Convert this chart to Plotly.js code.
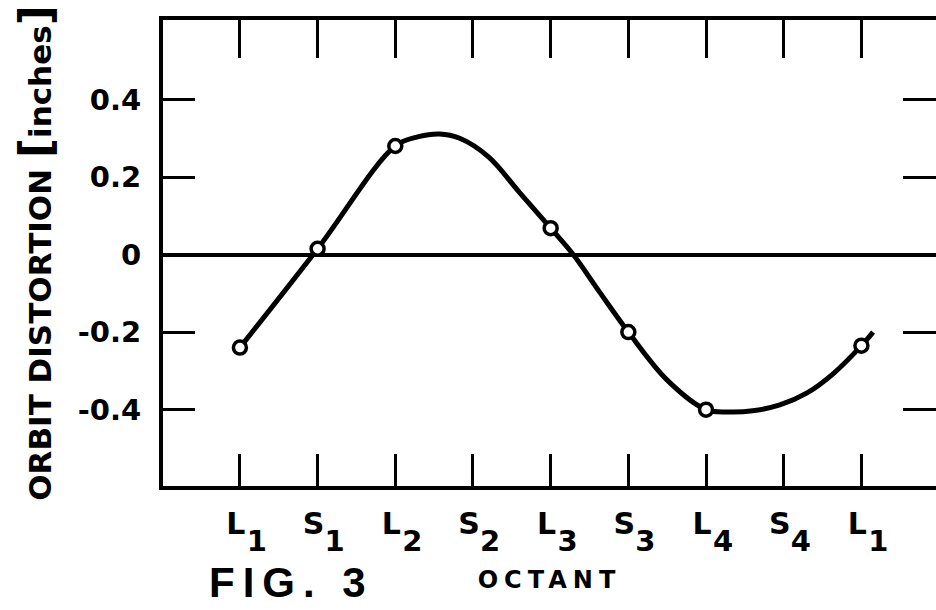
<!DOCTYPE html>
<html>
<head>
<meta charset="utf-8">
<script src="https://cdn.plot.ly/plotly-3.0.1.min.js"></script>
<style>html,body{margin:0;padding:0;background:#fff;}#chart{width:936px;height:610px;}</style>
</head>
<body>
<div id="chart"></div>
<script>
// Octant positions and labels
const octantPos = [0, 1, 2, 3, 4, 5, 6, 7, 8];
const octantLetters = ["L", "S", "L", "S", "L", "S", "L", "S", "L"];
const octantSubs = ["1", "1", "2", "2", "3", "3", "4", "4", "1"];

// Y ticks
const yTickVals = [-0.4, -0.2, 0, 0.2, 0.4];
const yTickText = ["-0.4", "-0.2", "0", "0.2", "0.4"];

// Measured points (open circles)
const pointX = [0, 1, 2, 4, 5, 6, 8];
const pointY = [-0.24, 0.015, 0.28, 0.068, -0.2, -0.40, -0.235];

// Smooth curve
const curveX = [0, 1, 2, 2.3, 2.57, 2.83, 3.2, 3.6, 4, 4.29, 4.63, 5, 5.5, 6, 6.3, 6.6, 6.95, 7.3, 7.65, 8, 8.15];
const curveY = [-0.24, 0.015, 0.28, 0.304, 0.311, 0.300, 0.252, 0.16, 0.068, 0, -0.097, -0.2, -0.324, -0.40, -0.406, -0.403, -0.388, -0.357, -0.305, -0.235, -0.200];

const FONT = "DejaVu Sans";
const xRange = [-0.99, 8.96];
const yRange = [-0.597, 0.605];

const traces = [
  {
    x: curveX, y: curveY, mode: "lines", type: "scatter",
    line: {color: "#000", width: 5, shape: "spline", smoothing: 1},
    hoverinfo: "skip", showlegend: false
  },
  {
    x: pointX, y: pointY, mode: "markers", type: "scatter",
    marker: {size: 13, color: "#fff", line: {color: "#000", width: 3.5}},
    showlegend: false
  },
  {x: [], y: [], xaxis: "x2", yaxis: "y2", type: "scatter", showlegend: false},
  {x: [], y: [], xaxis: "x3", yaxis: "y", type: "scatter", showlegend: false}
];

const layout = {
  width: 936, height: 610,
  margin: {l: 163, r: 0, t: 20, b: 124},
  paper_bgcolor: "#fff", plot_bgcolor: "#fff",
  font: {family: FONT, color: "#000"},
  showlegend: false,
  xaxis: {
    range: xRange, showgrid: false, zeroline: false,
    showline: true, linewidth: 4, linecolor: "#000",
    ticks: "inside", ticklen: 32, tickwidth: 3, tickcolor: "#000",
    tickmode: "array", tickvals: octantPos, ticktext: octantLetters,
    ticklabelstandoff: 8, ticklabelshift: -4,
    tickfont: {family: FONT, size: 30, color: "#000", weight: "bold"}
  },
  xaxis3: {
    overlaying: "x", side: "bottom", anchor: "y",
    range: xRange, showgrid: false, zeroline: false, showline: false,
    ticks: "", tickmode: "array", tickvals: octantPos, ticktext: octantSubs,
    ticklabelstandoff: 35, ticklabelshift: 17,
    tickfont: {family: FONT, size: 29, color: "#000", weight: "bold"},
    title: {text: "<span style=\"letter-spacing:6px\">OCTANT</span>", standoff: 14,
            font: {family: FONT, size: 24, color: "#000", weight: "bold"}}
  },
  xaxis2: {
    overlaying: "x", side: "top", anchor: "y2",
    range: xRange, showgrid: false, zeroline: false,
    showline: true, linewidth: 4, linecolor: "#000",
    ticks: "inside", ticklen: 38, tickwidth: 3, tickcolor: "#000",
    tickmode: "array", tickvals: octantPos, showticklabels: false
  },
  yaxis: {
    range: yRange, showgrid: false,
    zeroline: true, zerolinewidth: 4, zerolinecolor: "#000",
    showline: true, linewidth: 4, linecolor: "#000",
    ticks: "inside", ticklen: 32, tickwidth: 3, tickcolor: "#000",
    tickmode: "array", tickvals: yTickVals, ticktext: yTickText,
    ticklabelstandoff: 12,
    tickfont: {family: FONT, size: 29, color: "#000", weight: "bold"},
    title: {
      text: "ORBIT DISTORTION <span style=\"font-size:44px\">[</span>inches<span style=\"font-size:44px\">]</span>",
      standoff: 18,
      font: {family: FONT, size: 31, color: "#000", weight: "bold"}
    }
  },
  yaxis2: {
    overlaying: "y", side: "right", anchor: "x2",
    range: yRange, showgrid: false, zeroline: false, showline: false,
    ticks: "inside", ticklen: 33, tickwidth: 3, tickcolor: "#000",
    tickmode: "array", tickvals: yTickVals, showticklabels: false
  },
  annotations: [
    {
      text: "<span style=\"letter-spacing:8px\">FIG. 3</span>", xref: "paper", yref: "paper", x: 0.166, y: -0.208,
      xanchor: "center", yanchor: "middle", showarrow: false,
      font: {family: "Liberation Sans", size: 42, color: "#000", weight: "bold"}
    }
  ]
};

Plotly.newPlot("chart", traces, layout, {staticPlot: true, displayModeBar: false});
</script>
</body>
</html>
